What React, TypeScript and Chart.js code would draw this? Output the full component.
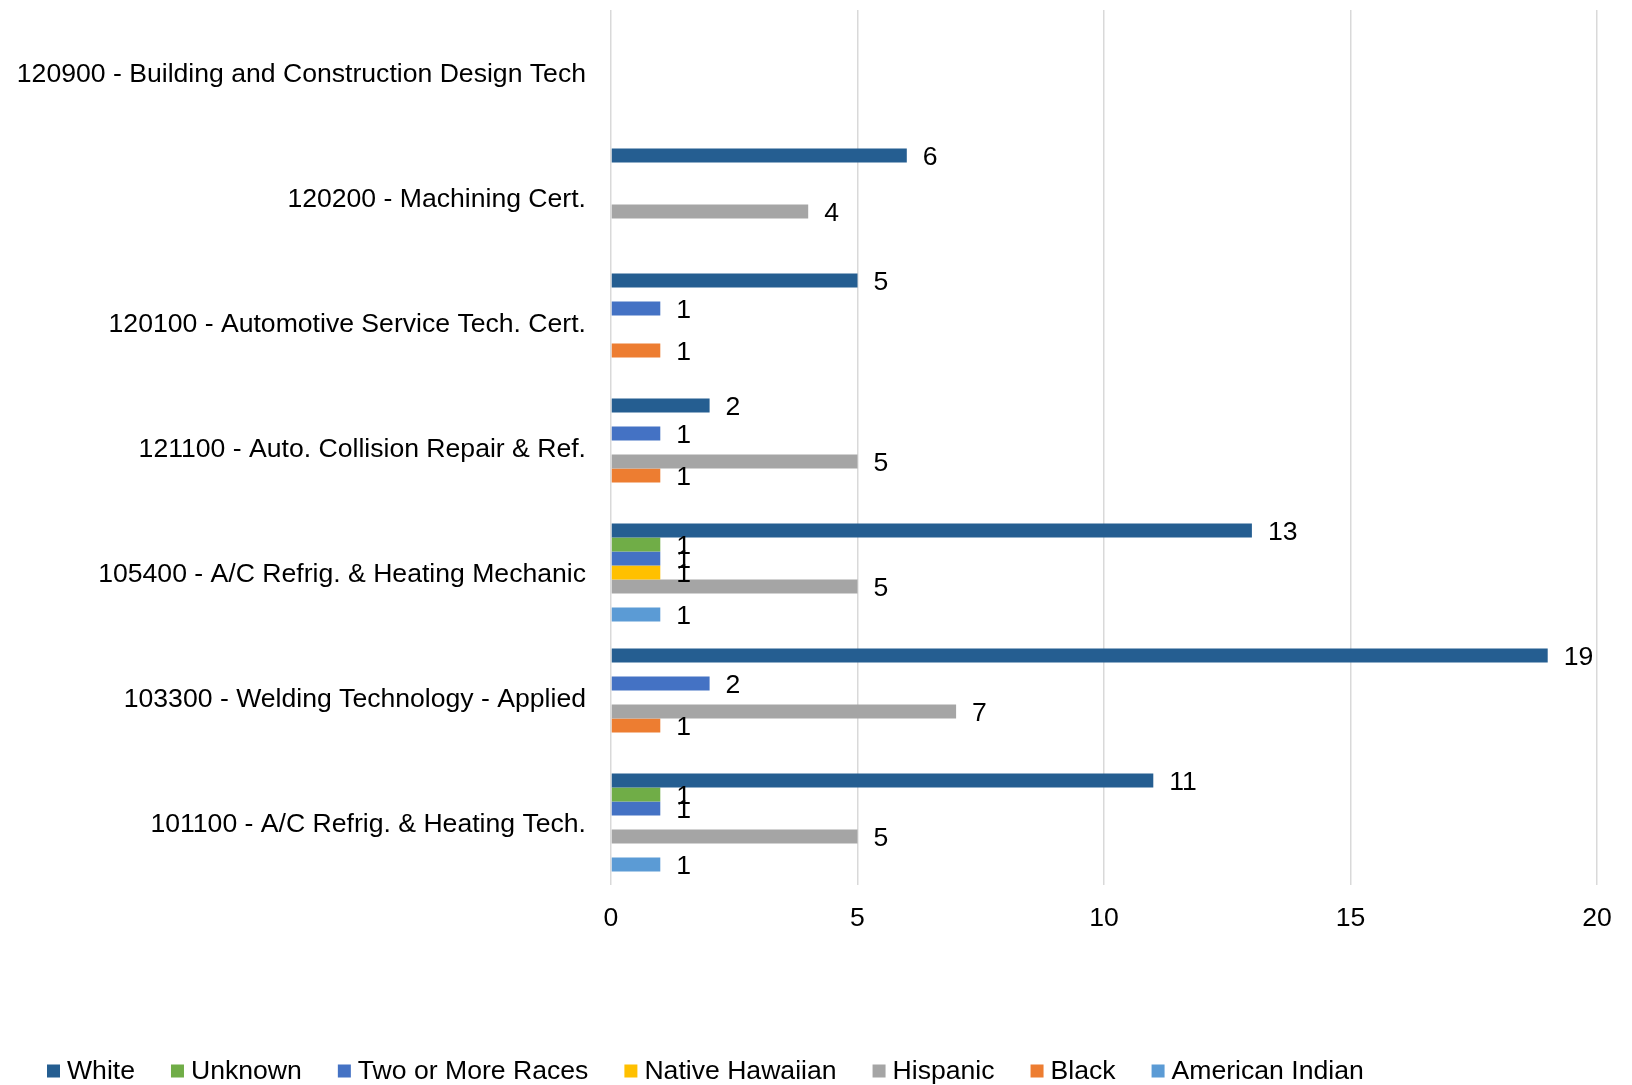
import { useEffect, useRef } from 'react';
import { Chart, registerables } from 'chart.js';

Chart.register(...registerables);

// Program names, listed top to bottom
const programs = [
  '120900 - Building and Construction Design Tech',
  '120200 - Machining Cert.',
  '120100 - Automotive Service Tech. Cert.',
  '121100 - Auto. Collision Repair & Ref.',
  '105400 - A/C Refrig. & Heating Mechanic',
  '103300 - Welding Technology - Applied',
  '101100 - A/C Refrig. & Heating Tech.',
];

// Headcount per ethnicity for each program (null = none)
const white = [null, 6, 5, 2, 13, 19, 11];
const unknown = [null, null, null, null, 1, null, 1];
const twoOrMoreRaces = [null, null, 1, 1, 1, 2, 1];
const nativeHawaiian = [null, null, null, null, 1, null, null];
const hispanic = [null, 4, null, 5, 5, 7, 5];
const black = [null, null, 1, 1, null, 1, null];
const americanIndian = [null, null, null, null, 1, null, 1];

const xMin = 0;
const xMax = 20;
const xStep = 5;

const FONT_FAMILY = "'Liberation Sans', Arial, Helvetica, sans-serif";
const FONT_SIZE = 26.6;
const TEXT_COLOR = '#000000';

const series = [
  { label: 'White', data: white, color: '#255E91' },
  { label: 'Unknown', data: unknown, color: '#70AD47' },
  { label: 'Two or More Races', data: twoOrMoreRaces, color: '#4472C4' },
  { label: 'Native Hawaiian', data: nativeHawaiian, color: '#FFC000' },
  { label: 'Hispanic', data: hispanic, color: '#A5A5A5' },
  { label: 'Black', data: black, color: '#ED7D31' },
  { label: 'American Indian', data: americanIndian, color: '#5B9BD5' },
];

// Writes each bar's value just past its end
const valueLabels = {
  id: 'valueLabels',
  afterDatasetsDraw(chart: any) {
    const ctx = chart.ctx;
    ctx.save();
    ctx.font = `${FONT_SIZE}px ${FONT_FAMILY}`;
    ctx.fillStyle = TEXT_COLOR;
    ctx.textAlign = 'left';
    ctx.textBaseline = 'middle';
    chart.data.datasets.forEach((ds: any, i: number) => {
      const meta = chart.getDatasetMeta(i);
      meta.data.forEach((bar: any, j: number) => {
        const v = ds.data[j];
        if (v === null || v === undefined) return;
        ctx.fillText(String(v), bar.x + 16, bar.y + 2);
      });
    });
    ctx.restore();
  },
};

// Square-swatch legend in a single row under the axis
const swatchLegend = {
  id: 'swatchLegend',
  afterDraw(chart: any) {
    const ctx = chart.ctx;
    const box = 13;
    const y = chart.height - 14;
    let x = 47;
    ctx.save();
    ctx.font = `${FONT_SIZE}px ${FONT_FAMILY}`;
    ctx.textAlign = 'left';
    ctx.textBaseline = 'middle';
    chart.data.datasets.forEach((ds: any) => {
      ctx.fillStyle = ds.backgroundColor;
      ctx.fillRect(x, y - box / 2, box, box);
      ctx.fillStyle = TEXT_COLOR;
      ctx.fillText(ds.label, x + box + 7, y + 1);
      x += box + 7 + ctx.measureText(ds.label).width + 36;
    });
    ctx.restore();
  },
};

export default function App() {
  const canvasRef = useRef<HTMLCanvasElement | null>(null);

  useEffect(() => {
    if (!canvasRef.current) return;
    const chart = new Chart(canvasRef.current, {
      type: 'bar',
      data: {
        labels: programs,
        datasets: series.map((s) => ({
          label: s.label,
          data: s.data,
          backgroundColor: s.color,
          borderWidth: 0,
          barPercentage: 1,
          categoryPercentage: 0.785,
        })),
      },
      options: {
        indexAxis: 'y',
        animation: false,
        responsive: false,
        maintainAspectRatio: false,
        layout: { padding: { top: 10, right: 35, bottom: 0, left: 0 } },
        plugins: {
          legend: { display: false },
          tooltip: { enabled: false },
        },
        scales: {
          x: {
            min: xMin,
            max: xMax,
            border: { display: false },
            grid: { color: '#D9D9D9', lineWidth: 1.5, drawTicks: false },
            ticks: {
              stepSize: xStep,
              padding: 18,
              color: TEXT_COLOR,
              font: { family: FONT_FAMILY, size: FONT_SIZE },
            },
            afterFit(scale: any) {
              scale.height = 200;
              scale.paddingLeft = 0;
              scale.paddingRight = 0;
            },
          },
          y: {
            border: { display: false },
            grid: { display: false, drawTicks: false },
            ticks: {
              padding: 25,
              labelOffset: 2,
              color: TEXT_COLOR,
              font: { family: FONT_FAMILY, size: FONT_SIZE },
              autoSkip: false,
            },
            afterFit(scale: any) {
              scale.width = 611;
              scale.paddingTop = 0;
              scale.paddingBottom = 0;
            },
          },
        },
      },
      plugins: [valueLabels, swatchLegend],
    });
    return () => chart.destroy();
  }, []);

  return (
    <div style={{ position: 'fixed', left: 0, top: 0, width: 1632, height: 1085, background: '#ffffff' }}>
      <canvas ref={canvasRef} width={1632} height={1085} style={{ width: 1632, height: 1085 }} />
    </div>
  );
}
